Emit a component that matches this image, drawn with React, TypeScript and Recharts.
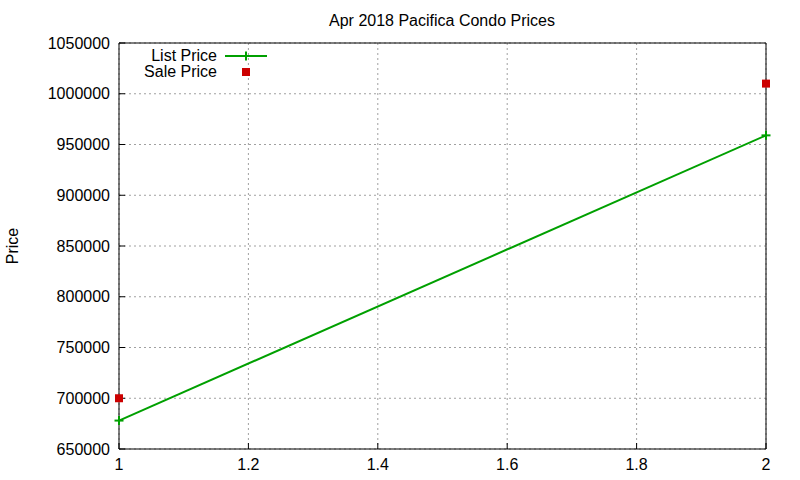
import { ComposedChart, Line, Scatter, XAxis, YAxis, CartesianGrid, ReferenceArea, Customized } from "recharts";

const xValues = [1, 2];
const listPrice = [678000, 959000];
const salePrice = [700000, 1010000];
const xTicks = [1, 1.2, 1.4, 1.6, 1.8, 2];
const yTicks = [650000, 700000, 750000, 800000, 850000, 900000, 950000, 1000000, 1050000];
const title = "Apr 2018 Pacifica Condo Prices";

const data = xValues.map((x, i) => ({ x, list: listPrice[i], sale: salePrice[i] }));

const GREEN = "#00a000";
const RED = "#cc0000";
const FONT = "'Liberation Sans', Arial, sans-serif";

function PlusDot(props: any) {
  const { cx, cy } = props;
  if (cx == null || cy == null) return null;
  return (
    <g>
      <line x1={cx - 4.5} x2={cx + 4.5} y1={cy} y2={cy} stroke={GREEN} strokeWidth={2} />
      <line x1={cx} x2={cx} y1={cy - 4.5} y2={cy + 4.5} stroke={GREEN} strokeWidth={2} />
    </g>
  );
}

function SquareDot(props: any) {
  const { cx, cy } = props;
  if (cx == null || cy == null) return null;
  return <rect x={cx - 4} y={cy - 4} width={8} height={8} fill={RED} />;
}

function Extras() {
  return (
    <g fontFamily={FONT} fontSize={16} fill="#000">
      <text x={442} y={26} textAnchor="middle">{title}</text>
      <text x={18} y={246} textAnchor="middle" transform="rotate(-90 18 246)">Price</text>
      <text x={217} y={61} textAnchor="end">List Price</text>
      <line x1={225} x2={267} y1={56} y2={56} stroke={GREEN} strokeWidth={2} />
      <PlusDot cx={246} cy={56} />
      <text x={217} y={77} textAnchor="end">Sale Price</text>
      <SquareDot cx={246} cy={72} />
    </g>
  );
}

export default function App() {
  return (
    <div style={{ position: "absolute", left: 0, top: 0, width: 800, height: 480, background: "#fff" }}>
      <ComposedChart width={800} height={480} data={data} margin={{ top: 43, right: 34, bottom: 0, left: 0 }}>
        <CartesianGrid stroke="#a0a0a0" strokeDasharray="2 3" horizontal vertical />
        <XAxis
          dataKey="x"
          type="number"
          domain={[1, 2]}
          ticks={xTicks}
          height={31}
          stroke="#000"
          tickSize={-6}
          tickMargin={16}
          tick={{ fill: "#000", fontSize: 16, fontFamily: FONT }}
          tickFormatter={(v: number) => String(Math.round(v * 10) / 10)}
          axisLine={false}
        />
        <XAxis
          xAxisId="top"
          orientation="top"
          dataKey="x"
          type="number"
          domain={[1, 2]}
          ticks={xTicks}
          height={0}
          stroke="#000"
          tickSize={-6}
          tickFormatter={() => ""}
          axisLine={false}
        />
        <YAxis
          type="number"
          domain={[650000, 1050000]}
          ticks={yTicks}
          width={119}
          stroke="#000"
          tickSize={-6}
          tickMargin={15}
          tick={{ fill: "#000", fontSize: 16, fontFamily: FONT }}
          axisLine={false}
        />
        <YAxis
          yAxisId="right"
          orientation="right"
          type="number"
          domain={[650000, 1050000]}
          ticks={yTicks}
          width={0}
          stroke="#000"
          tickSize={-6}
          tickFormatter={() => ""}
          axisLine={false}
        />
        <ReferenceArea x1={1} x2={2} y1={650000} y2={1050000} fill="none" stroke="#000" strokeWidth={1} ifOverflow="extendDomain" />
        <Line
          dataKey="list"
          stroke={GREEN}
          strokeWidth={2}
          dot={<PlusDot />}
          activeDot={false}
          isAnimationActive={false}
          type="linear"
        />
        <Scatter dataKey="sale" shape={<SquareDot />} isAnimationActive={false} />
        <Customized component={<Extras />} />
      </ComposedChart>
    </div>
  );
}
